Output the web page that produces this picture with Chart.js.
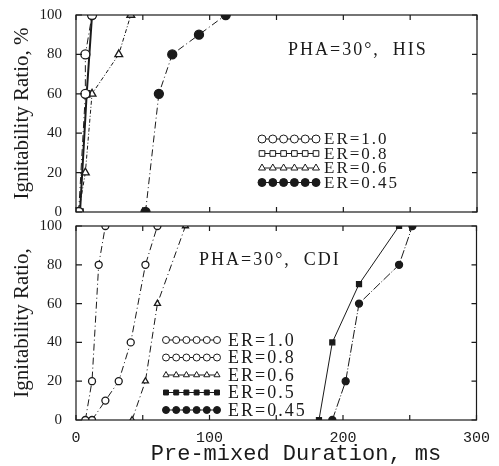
<!DOCTYPE html>
<html>
<head>
<meta charset="utf-8">
<script src="https://cdn.jsdelivr.net/npm/chart.js@4.4.1/dist/chart.umd.min.js"></script>
<style>
  html, body { margin: 0; padding: 0; background: #fff; }
  #wrap { position: relative; width: 499px; height: 466px; }
  .panel { position: absolute; left: 0; width: 499px; }
  #top { top: 0; height: 221px; }
  #bottom { top: 215px; height: 251px; }
</style>
</head>
<body>
<div id="wrap">
  <div class="panel" id="top"><canvas id="hisChart"></canvas></div>
  <div class="panel" id="bottom"><canvas id="cdiChart"></canvas></div>
</div>
<script>
// data (x = pre-mixed duration ms, y = ignitability %)
const xTicks = [0, 100, 200, 300];
const yTicks = [0, 20, 40, 60, 80, 100];

// upper panel: PHA=30°, HIS
const hisEr10X = [2, 7, 7, 12];
const hisEr10Y = [0, 60, 80, 100];
const hisEr08X = [3, 8, 12];
const hisEr08Y = [0, 60, 100];
const hisEr06X = [2, 7, 12, 32, 41];
const hisEr06Y = [0, 20, 60, 80, 100];
const hisEr045X = [52, 62, 72, 92, 112];
const hisEr045Y = [0, 60, 80, 90, 100];

// lower panel: PHA=30°, CDI
const cdiEr10X = [7, 12, 17, 22];
const cdiEr10Y = [0, 20, 80, 100];
const cdiEr08X = [12, 22, 32, 41, 52, 61];
const cdiEr08Y = [0, 10, 20, 40, 80, 100];
const cdiEr06X = [42, 52, 61, 82];
const cdiEr06Y = [0, 20, 60, 100];
const cdiEr05X = [182, 192, 212, 242];
const cdiEr05Y = [0, 40, 70, 100];
const cdiEr045X = [192, 202, 212, 242, 252];
const cdiEr045Y = [0, 20, 60, 80, 100];

const ink = "#1a1a1a";
const serif = "'Liberation Serif', 'DejaVu Serif', serif";
const mono = "'Liberation Mono', 'DejaVu Sans Mono', monospace";
const dashDot = [7, 3, 1, 3];

function pts(xs, ys) {
  return xs.map((x, i) => ({ x: x, y: ys[i] }));
}

function series(label, xs, ys, style, filled, radius, dash, width) {
  return {
    label: label,
    data: pts(xs, ys),
    showLine: true,
    borderColor: ink,
    borderWidth: width || 1,
    borderDash: dash || [],
    pointStyle: style,
    pointRadius: radius,
    pointBorderColor: ink,
    pointBorderWidth: 1.3,
    pointBackgroundColor: filled ? ink : "#fff",
    tension: 0,
  };
}

// frame with inward ticks + legend + caption
const framePlugin = {
  id: "frame",
  afterDraw(chart, args, opts) {
    const ctx = chart.ctx;
    const a = chart.chartArea;
    const xs = chart.scales.x;
    const ys = chart.scales.y;
    ctx.save();
    ctx.strokeStyle = ink;
    ctx.lineWidth = 1.2;
    ctx.strokeRect(a.left, a.top, a.right - a.left, a.bottom - a.top);
    ctx.beginPath();
    xs.ticks.forEach((t) => {
      const px = xs.getPixelForValue(t.value);
      ctx.moveTo(px, a.bottom);
      ctx.lineTo(px, a.bottom - 5);
      ctx.moveTo(px, a.top);
      ctx.lineTo(px, a.top + 5);
    });
    ys.ticks.forEach((t) => {
      const py = ys.getPixelForValue(t.value);
      ctx.moveTo(a.left, py);
      ctx.lineTo(a.left + 6, py);
      ctx.moveTo(a.right, py);
      ctx.lineTo(a.right - 5, py);
    });
    ctx.stroke();

    ctx.fillStyle = ink;
    ctx.textBaseline = "middle";
    ctx.textAlign = "left";

    // x axis title (only lower panel)
    if (opts.xTitle) {
      ctx.font = "22px " + mono;
      ctx.textAlign = "center";
      ctx.fillText(opts.xTitle, 296, chart.height - 12);
      ctx.textAlign = "left";
    }

    // caption
    ctx.font = opts.captionFont;
    ctx.letterSpacing = "2px";
    ctx.fillText(opts.caption, opts.captionX, opts.captionY);

    // legend
    ctx.font = opts.legendFont;
    chart.data.datasets.forEach((ds, i) => {
      const y = opts.legendY + i * opts.legendGap;
      ctx.beginPath();
      ctx.setLineDash([]);
      ctx.lineWidth = 1;
      ctx.moveTo(opts.legendX1, y);
      ctx.lineTo(opts.legendX2, y);
      ctx.stroke();
      const n = 6;
      for (let k = 0; k < n; k++) {
        const px = opts.legendX1 + (k * (opts.legendX2 - opts.legendX1)) / (n - 1);
        ctx.fillStyle = ds.pointBackgroundColor;
        ctx.strokeStyle = ink;
        Chart.helpers.drawPoint(ctx, {
          pointStyle: ds.pointStyle,
          radius: opts.legendRadius,
          borderWidth: 1.1,
          rotation: 0,
        }, px, y);
      }
      ctx.fillStyle = ink;
      ctx.fillText(ds.label, opts.legendTextX, y + 1);
    });
    ctx.restore();
  },
};

function baseOptions(yTitle, showX, frameOpts) {
  return {
    responsive: true,
    maintainAspectRatio: false,
    animation: false,
    layout: { padding: frameOpts.padding, autoPadding: false },
    plugins: {
      legend: { display: false },
      tooltip: { enabled: false },
      frame: frameOpts,
    },
    scales: {
      x: {
        type: "linear",
        min: xTicks[0],
        max: xTicks[xTicks.length - 1],
        grid: { display: false, drawTicks: false },
        border: { display: false },
        ticks: {
          display: showX,
          stepSize: 50,
          padding: 9,
          color: ink,
          font: { family: mono, size: 15 },
          callback: (v) => (xTicks.includes(v) ? v : ""),
        },
        afterFit: (s) => { s.height = showX ? 46 : 5; },
      },
      y: {
        min: yTicks[0],
        max: yTicks[yTicks.length - 1],
        // tick marks are drawn inward by the frame plugin; tickLength only spaces the labels
        grid: { display: false, drawTicks: true, tickLength: 14 },
        border: { display: false },
        ticks: {
          stepSize: 20,
          padding: 0,
          color: ink,
          font: { family: serif, size: 15 },
          callback: (v) => (yTicks.includes(v) ? v : ""),
        },
        title: {
          display: true,
          text: yTitle,
          color: ink,
          font: { family: serif, size: 21 },
          padding: 10,
        },
        afterFit: (s) => { s.width = 76; },
      },
    },
  };
}

new Chart(document.getElementById("hisChart"), {
  type: "scatter",
  data: {
    datasets: [
      series("ER=1.0", hisEr10X, hisEr10Y, "circle", false, 4.5, dashDot),
      series("ER=0.8", hisEr08X, hisEr08Y, "rect", false, 4.5, [], 2),
      series("ER=0.6", hisEr06X, hisEr06Y, "triangle", false, 4.5, [4, 2, 1, 2]),
      series("ER=0.45", hisEr045X, hisEr045Y, "circle", true, 4.5, dashDot),
    ],
  },
  options: baseOptions("Ignitability Ratio, %", false, {
    padding: { top: 15, right: 22, bottom: 0, left: 0 },
    caption: "PHA=30°,  HIS",
    captionFont: "18px " + serif,
    captionX: 288,
    captionY: 50,
    legendFont: "17px " + serif,
    legendX1: 262,
    legendX2: 316,
    legendTextX: 324,
    legendY: 139,
    legendGap: 14.5,
    legendRadius: 4,
  }),
  plugins: [framePlugin],
});

new Chart(document.getElementById("cdiChart"), {
  type: "scatter",
  data: {
    datasets: [
      series("ER=1.0", cdiEr10X, cdiEr10Y, "circle", false, 3.5, dashDot),
      series("ER=0.8", cdiEr08X, cdiEr08Y, "circle", false, 3.5, dashDot),
      series("ER=0.6", cdiEr06X, cdiEr06Y, "triangle", false, 3.5, dashDot),
      series("ER=0.5", cdiEr05X, cdiEr05Y, "rect", true, 3.5, []),
      series("ER=0.45", cdiEr045X, cdiEr045Y, "circle", true, 3.5, [9, 2, 1, 2]),
    ],
  },
  options: baseOptions("Ignitability Ratio,", true, {
    padding: { top: 11, right: 22, bottom: 0, left: 0 },
    xTitle: "Pre-mixed Duration, ms",
    caption: "PHA=30°,  CDI",
    captionFont: "18px " + serif,
    captionX: 199,
    captionY: 45,
    legendFont: "18px " + serif,
    legendX1: 166,
    legendX2: 217,
    legendTextX: 228,
    legendY: 125,
    legendGap: 17.5,
    legendRadius: 3.5,
  }),
  plugins: [framePlugin],
});
</script>
</body>
</html>
